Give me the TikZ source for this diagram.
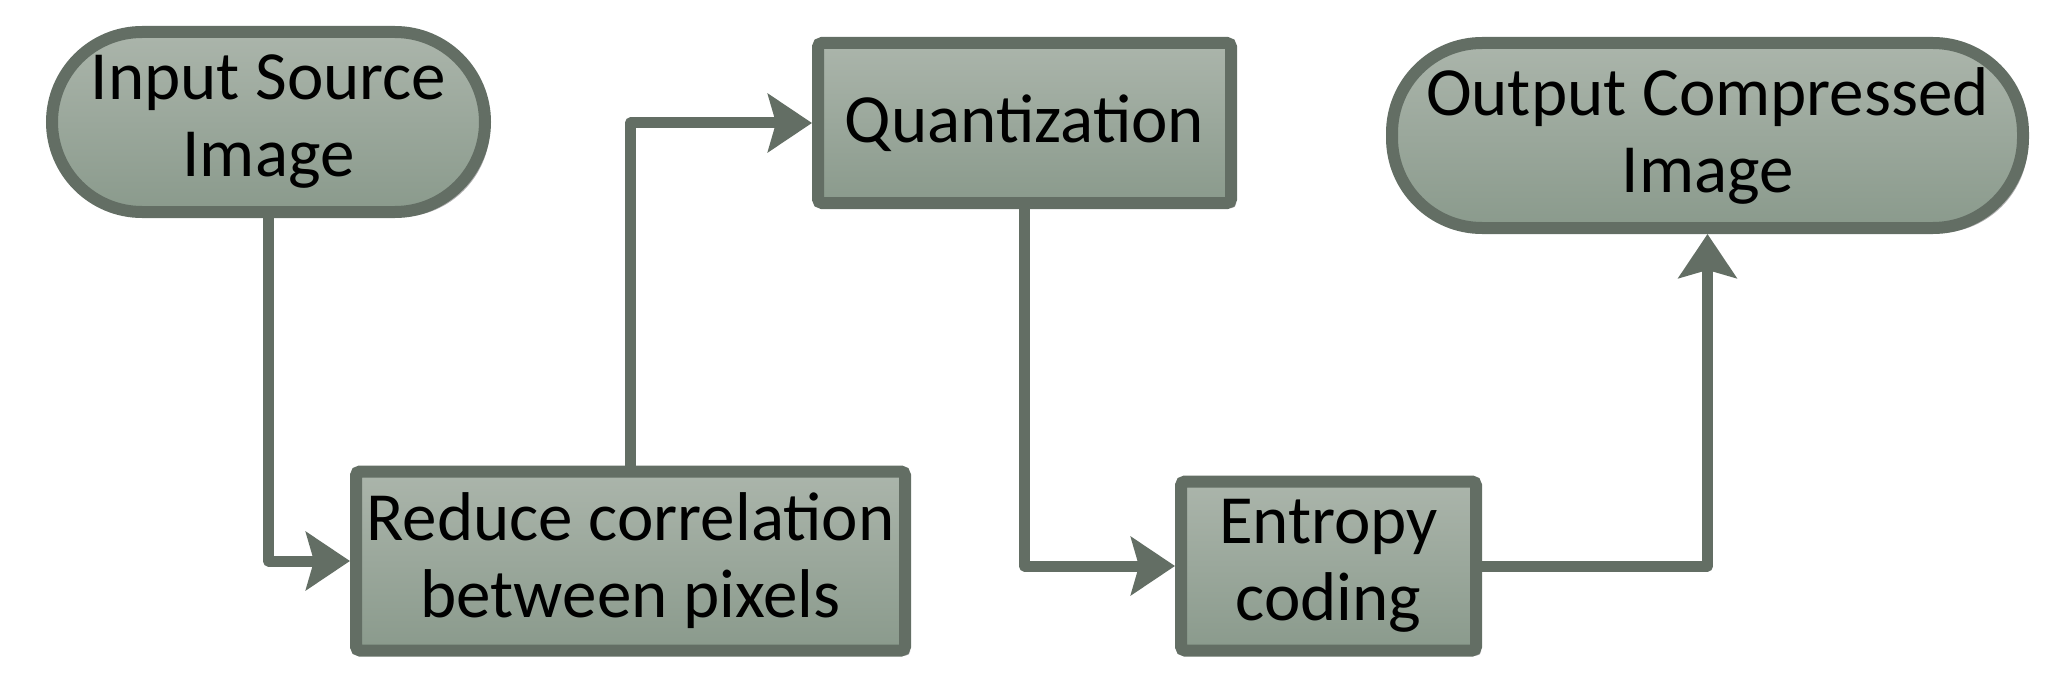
\documentclass[tikz,border=0pt]{standalone}
\usepackage{fontspec}
\setmainfont{Carlito}
\usetikzlibrary{arrows.meta,shadows}
\definecolor{lineC}{RGB}{99,110,100}
\definecolor{fillTop}{RGB}{171,181,171}
\definecolor{fillBot}{RGB}{138,154,140}
\definecolor{shadowC}{RGB}{175,175,175}
\tikzset{
  base/.style={draw=lineC, line width=12pt, top color=fillTop, bottom color=fillBot,
    align=center, inner sep=0pt, font=\fontsize{69}{77}\selectfont,
    drop shadow={shadow xshift=5pt, shadow yshift=-5pt, fill=shadowC, opacity=1}},
  procbox/.style={base, rectangle, rounded corners=4pt},
  termbox/.style={base, rectangle, rounded corners=90pt},
  conn/.style={draw=lineC, line width=11pt, line join=round,
    -{Stealth[length=44pt, width=58pt, inset=8pt]}}
}
\begin{document}
\begin{tikzpicture}[x=1pt, y=-1pt]
\useasboundingbox (0,0) rectangle (2070,698);
\node[termbox, minimum width=433pt, minimum height=180pt] (in) at (268.5,122) {Input Source\\Image};
\node[procbox, minimum width=413pt, minimum height=160pt] (qu) at (1024.5,123) {Quantization};
\node[termbox, minimum width=631pt, minimum height=185pt] (out) at (1707.5,135.5) {Output Compressed\\Image};
\node[procbox, minimum width=549pt, minimum height=179pt] (red) at (630.5,561) {Reduce correlation\\between pixels};
\node[procbox, minimum width=295pt, minimum height=169pt] (ent) at (1328.5,566) {Entropy\\coding};
\draw[conn] (in.south) |- (red.west);
\draw[conn] (red.north) |- (qu.west);
\draw[conn] (qu.south) |- (ent.west);
\draw[conn] (ent.east) -| (out.south);
\end{tikzpicture}
\end{document}
